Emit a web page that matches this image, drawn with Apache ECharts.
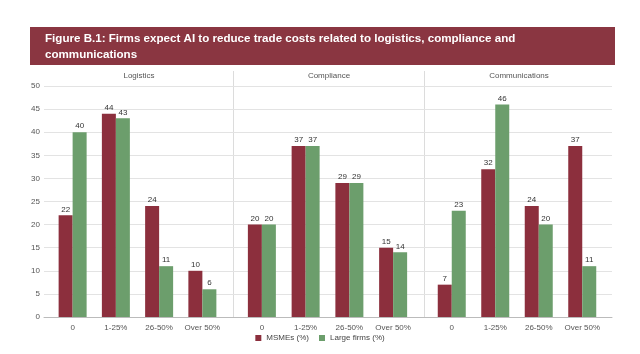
<!DOCTYPE html>
<html>
<head>
<meta charset="utf-8">
<script src="https://cdn.jsdelivr.net/npm/echarts@6/dist/echarts.min.js"></script>
<style>
  html, body { margin: 0; padding: 0; background: #fff; }
  #main { width: 640px; height: 354px; }
</style>
</head>
<body>
<div id="main"></div>
<script>
const categories = ['0', '1-25%', '26-50%', 'Over 50%'];
const panels = ['Logistics', 'Compliance', 'Communications'];
const msmes = [
  [22, 44, 24, 10],
  [20, 37, 29, 15],
  [7, 32, 24, 37]
];
const largeFirms = [
  [40, 43, 11, 6],
  [20, 37, 29, 14],
  [23, 46, 20, 11]
];

const RED = '#8c2f3d';
const GREEN = '#6c9e6c';
const font = 'Liberation Sans, Arial, sans-serif';

const chart = echarts.init(document.getElementById('main'));

// panel placement (px)
const panelBox = [
  { left: 51, width: 173, head: 139 },
  { left: 240, width: 175, head: 329 },
  { left: 430, width: 174, head: 519 }
];

const grids = [{ left: 44, right: 28, top: 86, bottom: 37 }];
const xAxes = [{
  gridIndex: 0, type: 'category', data: [''],
  axisLine: { lineStyle: { color: '#bbb' } },
  axisTick: { show: false }, axisLabel: { show: false }
}];
const yAxes = [{
  gridIndex: 0, type: 'value', min: 0, max: 50, interval: 5,
  axisLine: { show: false }, axisTick: { show: false },
  axisLabel: { color: '#555', fontSize: 8, fontFamily: font, margin: 4 },
  splitLine: { lineStyle: { color: '#e3e3e3' } }
}];
const series = [];
const graphics = [
  // title band and panel separators
  { type: 'rect', z: -1, shape: { x: 30, y: 27, width: 585, height: 38 }, style: { fill: '#8a3641' } },
  { type: 'line', shape: { x1: 233.5, y1: 71, x2: 233.5, y2: 317 }, style: { stroke: '#dcdcdc', lineWidth: 1 } },
  { type: 'line', shape: { x1: 424.5, y1: 71, x2: 424.5, y2: 317 }, style: { stroke: '#dcdcdc', lineWidth: 1 } }
];

panelBox.forEach((p, i) => {
  const gi = i + 1;
  grids.push({ left: p.left, width: p.width, top: 86, bottom: 37 });
  xAxes.push({
    gridIndex: gi, type: 'category', data: categories,
    axisLine: { show: false }, axisTick: { show: false },
    axisLabel: { color: '#555', fontSize: 8, fontFamily: font, margin: 7, interval: 0 }
  });
  yAxes.push({
    gridIndex: gi, type: 'value', min: 0, max: 50, interval: 5, show: false,
    splitLine: { show: false }
  });
  const label = { show: true, position: 'top', distance: 2, color: '#333', fontSize: 8, fontFamily: font };
  series.push({
    name: 'MSMEs (%)', type: 'bar', xAxisIndex: gi, yAxisIndex: gi,
    data: msmes[i], barWidth: 14, barGap: '0%', itemStyle: { color: RED }, label: label
  });
  series.push({
    name: 'Large firms (%)', type: 'bar', xAxisIndex: gi, yAxisIndex: gi,
    data: largeFirms[i], barWidth: 14, barGap: '0%', itemStyle: { color: GREEN }, label: label
  });
  graphics.push({
    type: 'text', x: p.head, y: 76,
    style: {
      text: panels[i], fill: '#555', fontSize: 8, fontFamily: font,
      textAlign: 'center', textVerticalAlign: 'middle'
    }
  });
});

const option = {
  backgroundColor: '#fff',
  animation: false,
  title: {
    text: 'Figure B.1: Firms expect AI to reduce trade costs related to logistics, compliance and\ncommunications',
    left: 40, top: 26,
    textStyle: { color: '#fff', fontSize: 11.6, fontWeight: 'bold', fontFamily: font, lineHeight: 16 }
  },
  graphic: graphics,
  legend: {
    data: ['MSMEs (%)', 'Large firms (%)'],
    left: 'center', bottom: 7,
    icon: 'rect', itemWidth: 6, itemHeight: 6, itemGap: 10,
    textStyle: { color: '#444', fontSize: 8, fontFamily: font }
  },
  grid: grids,
  xAxis: xAxes,
  yAxis: yAxes,
  series: series
};
chart.setOption(option);
</script>
</body>
</html>
